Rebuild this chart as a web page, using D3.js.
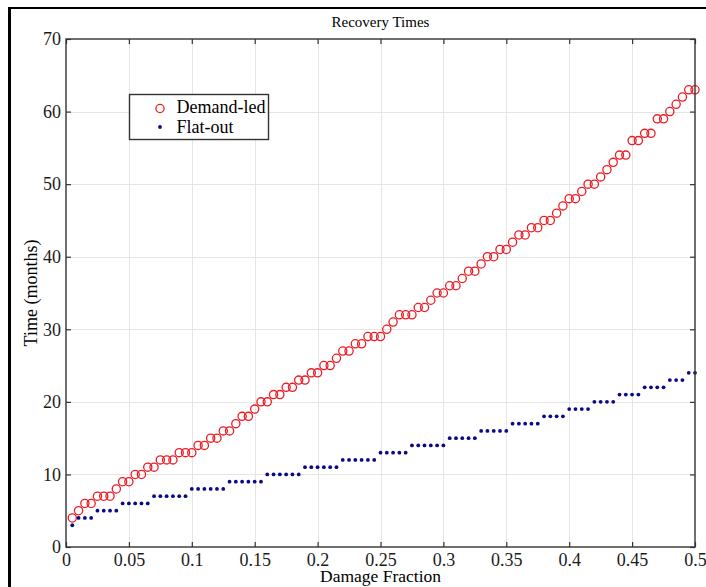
<!DOCTYPE html>
<html lang="en">
<head>
<meta charset="utf-8">
<title>Recovery Times</title>
<style>
  body { margin: 0; background: #fff; }
  svg { display: block; font-family: "Liberation Serif", "DejaVu Serif", serif; }
  .grid line { stroke: #e5e5e5; stroke-width: 1; shape-rendering: crispEdges; }
  .axis path { display: none; }
  .axis line { stroke: #333; stroke-width: 1.2; }
  .axis text { font-size: 18px; fill: #1a1a1a; font-family: "Liberation Serif", serif; }
</style>
</head>
<body>
<svg width="706" height="587"></svg>
<script src="https://d3js.org/d3.v7.min.js"></script>
<script>
// damage fraction sampled every 0.005
var damageFraction = [
  0.005, 0.01, 0.015, 0.02, 0.025, 0.03, 0.035, 0.04, 0.045, 0.05,
  0.055, 0.06, 0.065, 0.07, 0.075, 0.08, 0.085, 0.09, 0.095, 0.1,
  0.105, 0.11, 0.115, 0.12, 0.125, 0.13, 0.135, 0.14, 0.145, 0.15,
  0.155, 0.16, 0.165, 0.17, 0.175, 0.18, 0.185, 0.19, 0.195, 0.2,
  0.205, 0.21, 0.215, 0.22, 0.225, 0.23, 0.235, 0.24, 0.245, 0.25,
  0.255, 0.26, 0.265, 0.27, 0.275, 0.28, 0.285, 0.29, 0.295, 0.3,
  0.305, 0.31, 0.315, 0.32, 0.325, 0.33, 0.335, 0.34, 0.345, 0.35,
  0.355, 0.36, 0.365, 0.37, 0.375, 0.38, 0.385, 0.39, 0.395, 0.4,
  0.405, 0.41, 0.415, 0.42, 0.425, 0.43, 0.435, 0.44, 0.445, 0.45,
  0.455, 0.46, 0.465, 0.47, 0.475, 0.48, 0.485, 0.49, 0.495, 0.5
];

// recovery time in months
var demandLed = [
  4, 5, 6, 6, 7, 7, 7, 8, 9, 9,
  10, 10, 11, 11, 12, 12, 12, 13, 13, 13,
  14, 14, 15, 15, 16, 16, 17, 18, 18, 19,
  20, 20, 21, 21, 22, 22, 23, 23, 24, 24,
  25, 25, 26, 27, 27, 28, 28, 29, 29, 29,
  30, 31, 32, 32, 32, 33, 33, 34, 35, 35,
  36, 36, 37, 38, 38, 39, 40, 40, 41, 41,
  42, 43, 43, 44, 44, 45, 45, 46, 47, 48,
  48, 49, 50, 50, 51, 52, 53, 54, 54, 56,
  56, 57, 57, 59, 59, 60, 61, 62, 63, 63
];

var flatOut = [
  3, 4, 4, 4, 5, 5, 5, 5, 6, 6,
  6, 6, 6, 7, 7, 7, 7, 7, 7, 8,
  8, 8, 8, 8, 8, 9, 9, 9, 9, 9,
  9, 10, 10, 10, 10, 10, 10, 11, 11, 11,
  11, 11, 11, 12, 12, 12, 12, 12, 12, 13,
  13, 13, 13, 13, 14, 14, 14, 14, 14, 14,
  15, 15, 15, 15, 15, 16, 16, 16, 16, 16,
  17, 17, 17, 17, 17, 18, 18, 18, 18, 19,
  19, 19, 19, 20, 20, 20, 20, 21, 21, 21,
  21, 22, 22, 22, 22, 23, 23, 23, 24, 24
];

var xTicks = [0, 0.05, 0.1, 0.15, 0.2, 0.25, 0.3, 0.35, 0.4, 0.45, 0.5];
var xTickLabels = ['0', '0.05', '0.1', '0.15', '0.2', '0.25', '0.3', '0.35', '0.4', '0.45', '0.5'];
var yTicks = [0, 10, 20, 30, 40, 50, 60, 70];

var seriesNames = ['Demand-led', 'Flat-out'];

var svg = d3.select('svg');

var plotLeft = 66, plotRight = 695, plotTop = 39, plotBottom = 547;

var x = d3.scaleLinear().domain([0, 0.5]).range([plotLeft, plotRight]);
var y = d3.scaleLinear().domain([0, 70]).range([plotBottom, plotTop]);

// outer frame (only left and top edges are inside the picture)
svg.append('line')
  .attr('x1', 9.5).attr('y1', 7).attr('x2', 9.5).attr('y2', 587)
  .attr('stroke', '#000').attr('stroke-width', 3);
svg.append('line')
  .attr('x1', 8).attr('y1', 8).attr('x2', 706).attr('y2', 8)
  .attr('stroke', '#000').attr('stroke-width', 2);

// grid
var grid = svg.append('g').attr('class', 'grid');
grid.selectAll('.gx')
  .data(xTicks.slice(1, -1))
  .enter()
  .append('line')
  .attr('x1', function(d) { return Math.round(x(d)) + 0.5; })
  .attr('x2', function(d) { return Math.round(x(d)) + 0.5; })
  .attr('y1', plotTop)
  .attr('y2', plotBottom);
grid.selectAll('.gy')
  .data(yTicks.slice(1, -1))
  .enter()
  .append('line')
  .attr('y1', function(d) { return Math.round(y(d)) + 0.5; })
  .attr('y2', function(d) { return Math.round(y(d)) + 0.5; })
  .attr('x1', plotLeft)
  .attr('x2', plotRight);

// data
svg.append('g')
  .selectAll('circle')
  .data(demandLed)
  .enter()
  .append('circle')
  .attr('cx', function(d, i) { return x(damageFraction[i]); })
  .attr('cy', function(d) { return y(d); })
  .attr('r', 4.1)
  .attr('fill', 'none')
  .attr('stroke', '#ec1c24')
  .attr('stroke-width', 1.3);

svg.append('g')
  .selectAll('circle')
  .data(flatOut)
  .enter()
  .append('circle')
  .attr('cx', function(d, i) { return x(damageFraction[i]); })
  .attr('cy', function(d) { return y(d); })
  .attr('r', 1.9)
  .attr('fill', '#0a0a86');

// axes, ticks pointing inward
svg.append('g')
  .attr('class', 'axis')
  .attr('transform', 'translate(0,' + plotBottom + ')')
  .call(d3.axisBottom(x).tickValues(xTicks)
    .tickFormat(function(d, i) { return xTickLabels[i]; })
    .tickSizeInner(-5).tickSizeOuter(0).tickPadding(6));

svg.append('g')
  .attr('class', 'axis')
  .attr('transform', 'translate(' + plotLeft + ',0)')
  .call(d3.axisLeft(y).tickValues(yTicks)
    .tickSizeInner(-5).tickSizeOuter(0).tickPadding(5));

svg.append('g')
  .attr('class', 'axis')
  .attr('transform', 'translate(0,' + plotTop + ')')
  .call(d3.axisTop(x).tickValues(xTicks).tickFormat('')
    .tickSizeInner(-5).tickSizeOuter(0));

svg.append('g')
  .attr('class', 'axis')
  .attr('transform', 'translate(' + plotRight + ',0)')
  .call(d3.axisRight(y).tickValues(yTicks).tickFormat('')
    .tickSizeInner(-5).tickSizeOuter(0));

// plot box
svg.append('rect')
  .attr('x', plotLeft).attr('y', plotTop)
  .attr('width', plotRight - plotLeft).attr('height', plotBottom - plotTop)
  .attr('fill', 'none')
  .attr('stroke', '#333')
  .attr('stroke-width', 1.4);

// texts
svg.append('text')
  .attr('x', (plotLeft + plotRight) / 2).attr('y', 27)
  .attr('text-anchor', 'middle')
  .attr('font-size', 15)
  .text('Recovery Times');

svg.append('text')
  .attr('x', (plotLeft + plotRight) / 2).attr('y', 582)
  .attr('text-anchor', 'middle')
  .attr('font-size', 17.5)
  .text('Damage Fraction');

svg.append('text')
  .attr('transform', 'translate(37,' + (plotTop + plotBottom) / 2 + ') rotate(-90)')
  .attr('text-anchor', 'middle')
  .attr('font-size', 18)
  .text('Time (months)');

// legend
var legend = svg.append('g').attr('transform', 'translate(129.5,94.5)');
legend.append('rect')
  .attr('width', 139).attr('height', 45)
  .attr('fill', '#fff')
  .attr('stroke', '#333')
  .attr('stroke-width', 1.4);
legend.append('circle')
  .attr('cx', 30.5).attr('cy', 14)
  .attr('r', 4.1)
  .attr('fill', 'none')
  .attr('stroke', '#ec1c24')
  .attr('stroke-width', 1.3);
legend.append('circle')
  .attr('cx', 30.5).attr('cy', 32.5)
  .attr('r', 1.9)
  .attr('fill', '#0a0a86');
legend.selectAll('text')
  .data(seriesNames)
  .enter()
  .append('text')
  .attr('x', 47)
  .attr('y', function(d, i) { return 18.5 + i * 20; })
  .attr('font-size', 18)
  .text(function(d) { return d; });
</script>
</body>
</html>
